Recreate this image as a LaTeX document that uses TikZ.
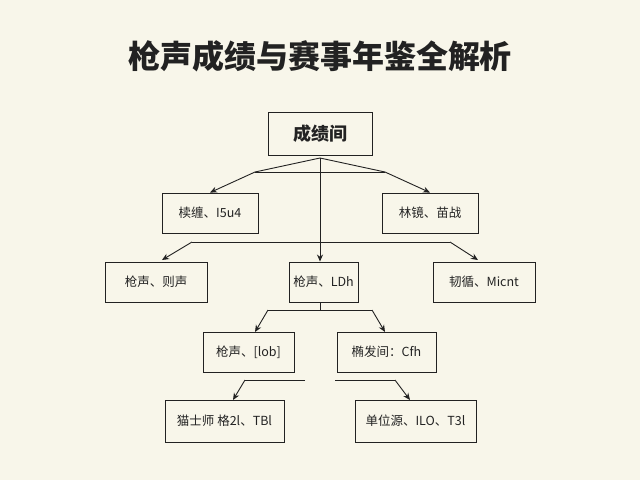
\documentclass[tikz,border=0pt]{standalone}
\usepackage{fontspec}
\setmainfont{Noto Sans CJK SC}
\usetikzlibrary{arrows.meta}
\definecolor{bg}{HTML}{F8F6EA}
\definecolor{ink}{HTML}{222222}
\begin{document}
\begin{tikzpicture}[x=1pt,y=-1pt,
 box/.style={draw=ink,line width=0.9pt,fill=bg,inner sep=0pt,font=\fontsize{12.5}{14}\selectfont,text=ink},
 ln/.style={draw=ink,line width=0.9pt},
 ar/.style={ln,-{Stealth[length=7pt,width=6pt]}}]
\fill[bg] (0,0) rectangle (640,480);
\useasboundingbox (0,0) rectangle (640,480);
\node[font=\fontsize{32}{36}\selectfont\bfseries,text=ink] (title) at (320,56) {枪声成绩与赛事年鉴全解析};
\node[box,minimum width=104pt,minimum height=43pt,font=\fontsize{18}{20}\selectfont\bfseries] (root) at (320,133.5) {成绩间};
\node[box,minimum width=96pt,minimum height=40pt] (a1) at (210,213) {椟缠、I5u4};
\node[box,minimum width=96pt,minimum height=40pt] (a2) at (430,213) {林镜、苗战};
\node[box,minimum width=102pt,minimum height=40pt] (b1) at (156,282) {枪声、则声};
\node[box,minimum width=69pt,minimum height=40pt] (b2) at (323.5,282) {枪声、LDh};
\node[box,minimum width=102pt,minimum height=40pt] (b3) at (484,282) {韧循、Micnt};
\node[box,minimum width=91pt,minimum height=40pt] (c1) at (248.5,352) {枪声、[lob]};
\node[box,minimum width=99pt,minimum height=40pt] (c2) at (386.5,352) {椭发间：Cfh};
\node[box,minimum width=119pt,minimum height=42pt] (d1) at (224.5,421) {猫士师 格2l、TBl};
\node[box,minimum width=121pt,minimum height=42pt] (d2) at (415.5,421) {单位源、ILO、T3l};
\coordinate (r0) at (320,158);
\draw[ln] (255,172) -- (385,172);
\draw[ar] (r0) -- (255,172) -- (a1.north);
\draw[ar] (r0) -- (385,172) -- (a2.north);
\draw[ar] (r0) -- (b2.north -| r0);
\draw[ln] (192,242) -- (450,242);
\draw[ar] (192,242) -- (162,260);
\draw[ar] (450,242) -- (478,260);
\coordinate (m0) at (320,302);
\draw[ln] (m0) -- (320,310);
\draw[ln] (268,310) -- (372,310);
\draw[ar] (268,310) -- (255,332);
\draw[ar] (372,310) -- (385,332);
\draw[ln] (305,380) -- (245,380);
\draw[ar] (245,380) -- (233,400);
\draw[ln] (335,380) -- (395,380);
\draw[ar] (395,380) -- (410,400);
\end{tikzpicture}
\end{document}
